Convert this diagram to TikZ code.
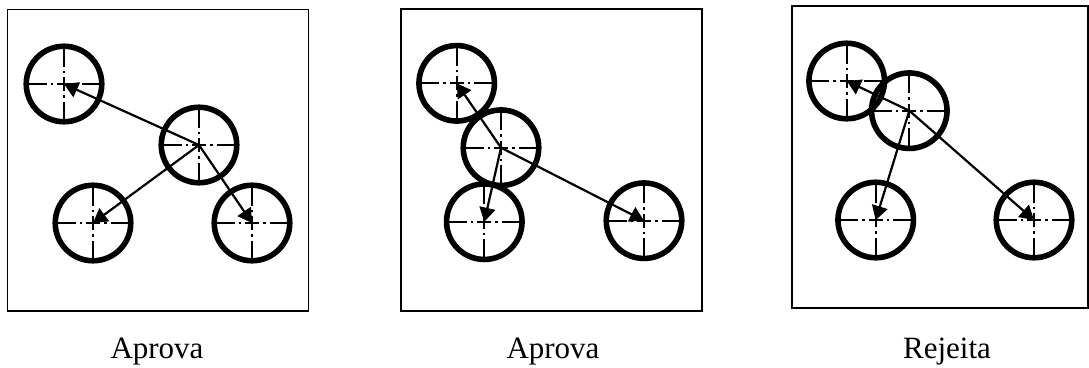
\documentclass[tikz,border=0pt]{standalone}
\usepackage{fontspec}
\setmainfont{Liberation Serif}
\usetikzlibrary{arrows.meta}
\begin{document}
\begin{tikzpicture}[x=1pt,y=-1pt,
  frame/.style={draw=black,line width=1.2pt},
  cross/.style={line width=2.2pt,dash pattern=on 7pt off 4pt on 2.5pt off 4pt on 40pt off 0pt},
  target/.style={circle,draw,line width=5.6pt,minimum size=75.5pt,inner sep=0pt,
    path picture={\foreach \a in {0,90,180,270}
      \draw[cross] (path picture bounding box.center) -- ++(\a:40);}},
  link/.style={line width=2.2pt,-{Triangle[length=14pt,width=16pt]}},
  lbl/.style={anchor=base,font=\fontsize{31}{31}\selectfont}]
\useasboundingbox (0,0) rectangle (1089,367);
% panel 1
\node[frame,minimum width=301.5pt,minimum height=301.5pt,inner sep=0pt] (f1) at (158,160.3) {};
\node[target] (a1) at (64,84) {};
\node[target] (a2) at (199,145) {};
\node[target] (a3) at (93,223) {};
\node[target] (a4) at (252,223) {};
\draw[link] (a2.center) -- (a1.center);
\draw[link] (a2.center) -- (a3.center);
\draw[link] (a2.center) -- (a4.center);
\node[lbl] (t1) at (157,358) {Aprova};
% panel 2
\node[frame,minimum width=301pt,minimum height=302pt,inner sep=0pt] (f2) at (551.5,160) {};
\node[target] (b1) at (456.7,83.3) {};
\node[target] (b2) at (501,147.7) {};
\node[target] (b3) at (484.3,221.7) {};
\node[target] (b4) at (644,220.7) {};
\draw[link] (b2.center) -- (b1.center);
\draw[link] (b2.center) -- (b3.center);
\draw[link] (b2.center) -- (b4.center);
\node[lbl] (t2) at (553,358) {Aprova};
% panel 3
\node[frame,minimum width=296pt,minimum height=302pt,inner sep=0pt] (f3) at (940,157) {};
\node[target] (c1) at (846.7,81) {};
\node[target] (c2) at (909.3,110.7) {};
\node[target] (c3) at (875.7,220) {};
\node[target] (c4) at (1034,220) {};
\draw[link] (c2.center) -- (c1.center);
\draw[link] (c2.center) -- (c3.center);
\draw[link] (c2.center) -- (c4.center);
\node[lbl] (t3) at (947,358) {Rejeita};
\end{tikzpicture}
\end{document}
